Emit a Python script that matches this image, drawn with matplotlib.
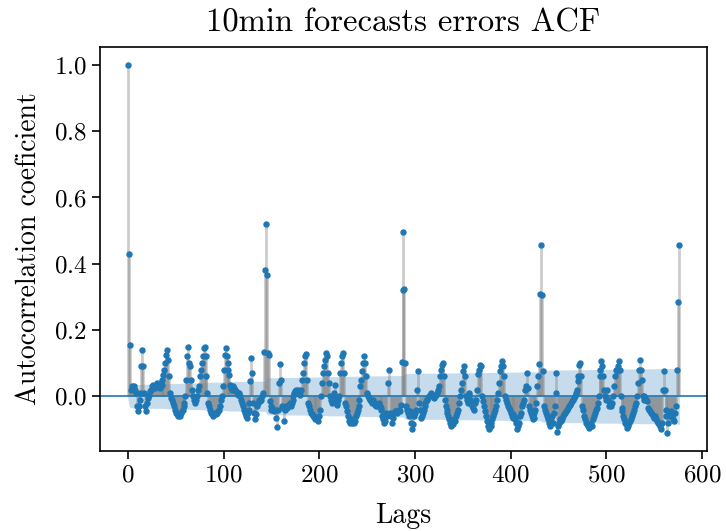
# ACF of the 10-min forecast errors, stems + markers + Bartlett band
import matplotlib
matplotlib.use("Agg")
import matplotlib.pyplot as plt
import numpy as np

plt.rcParams["font.family"] = "serif"
plt.rcParams["font.serif"] = ["cmr10", "DejaVu Serif"]
plt.rcParams["mathtext.fontset"] = "cm"
plt.rcParams["axes.formatter.use_mathtext"] = True
plt.rcParams["axes.unicode_minus"] = False

TITLE   = "10min forecasts errors ACF"
XLABEL  = "Lags"
YLABEL  = "Autocorrelation coeficient"
N_OBS   = 4400   # sample size used for the confidence band
X_TICKS = [0, 100, 200, 300, 400, 500, 600]
Y_TICKS = [0.0, 0.2, 0.4, 0.6, 0.8, 1.0]

# acf value per lag (0..576)
acf_vals = [
    1.0, 0.43, 0.155, 0.02, 0.03, 0.025, 0.03, 0.02, 0.01, -0.03,
    -0.045, -0.03, -0.01, 0.01, 0.09, 0.14, 0.09, 0.01, -0.03, -0.045,
    -0.02, -0.005, 0.005, 0.015, 0.02, 0.03, 0.035, 0.03, 0.025, 0.03,
    0.04, 0.035, 0.03, 0.025, 0.03, 0.035, 0.05, 0.065, 0.08, 0.1,
    0.125, 0.14, 0.11, 0.06, 0.01, -0.005, -0.01, -0.02, -0.03, -0.04,
    -0.05, -0.055, -0.06, -0.055, -0.06, -0.05, -0.045, -0.04, -0.03, -0.02,
    0.0, 0.05, 0.12, 0.15, 0.1, 0.09, 0.05, 0.02, 0.0, -0.01,
    -0.02, -0.01, 0.0, 0.02, 0.03, 0.06, 0.08, 0.1, 0.12, 0.145,
    0.15, 0.12, 0.06, 0.01, -0.02, -0.03, -0.04, -0.05, -0.055, -0.06,
    -0.055, -0.05, -0.055, -0.05, -0.045, -0.04, -0.03, -0.01, 0.0, 0.03,
    0.08, 0.125, 0.145, 0.12, 0.1, 0.08, 0.065, 0.035, 0.025, 0.02,
    0.03, 0.025, 0.02, 0.015, 0.01, 0.005, 0.01, 0.0, -0.01, -0.02,
    -0.03, -0.04, -0.05, -0.06, -0.065, -0.05, -0.04, -0.02, 0.045, 0.115,
    0.07, -0.02, -0.05, -0.07, -0.055, -0.03, -0.02, -0.01, -0.015, -0.01,
    0.0, 0.01, 0.135, 0.38, 0.52, 0.365, 0.13, 0.125, -0.015, -0.03,
    -0.04, -0.035, -0.04, -0.045, -0.04, -0.067, -0.094, -0.04, 0.04, 0.096,
    0.05, -0.03, -0.035, -0.074, -0.04, -0.03, -0.035, -0.03, -0.025, -0.02,
    -0.03, -0.02, -0.01, 0.0, 0.01, 0.015, 0.02, 0.01, 0.02, 0.01,
    0.005, 0.02, 0.05, 0.07, 0.1, 0.12, 0.126, 0.05, -0.02, -0.03,
    -0.04, -0.05, -0.055, -0.06, -0.06, -0.065, -0.07, -0.065, -0.07, -0.075,
    -0.06, -0.04, 0.0, 0.04, 0.07, 0.09, 0.11, 0.13, 0.12, 0.07,
    0.04, 0.0, -0.01, -0.02, 0.0, 0.01, 0.035, -0.01, -0.025, -0.02,
    -0.01, 0.0, 0.07, 0.1, 0.12, 0.13, 0.07, -0.02, -0.03, -0.045,
    -0.06, -0.075, -0.08, -0.075, -0.08, -0.07, -0.08, -0.075, -0.06, -0.05,
    -0.04, -0.03, -0.01, 0.03, 0.05, 0.075, 0.1, 0.12, 0.1, 0.06,
    0.01, 0.0, -0.005, -0.01, -0.015, -0.02, -0.01, -0.02, -0.025, -0.03,
    -0.025, -0.03, -0.02, -0.03, -0.035, -0.04, -0.06, -0.07, -0.08, -0.075,
    -0.05, -0.06, 0.04, 0.08, -0.05, -0.06, -0.08, -0.065, -0.05, -0.045,
    -0.045, -0.05, -0.045, -0.04, -0.045, -0.025, 0.103, 0.32, 0.497, 0.325,
    0.1, -0.03, -0.04, -0.05, -0.06, -0.045, -0.08, -0.1, -0.085, -0.06,
    -0.05, -0.04, 0.02, 0.076, -0.02, -0.04, -0.065, -0.06, -0.05, -0.04,
    -0.03, -0.02, -0.015, -0.01, -0.005, 0.0, 0.005, 0.01, 0.005, 0.0,
    -0.005, 0.0, 0.005, 0.01, 0.02, 0.03, 0.06, 0.08, 0.095, 0.1,
    0.06, -0.01, -0.03, -0.04, -0.05, -0.06, -0.07, -0.08, -0.09, -0.08,
    -0.085, -0.07, -0.075, -0.06, -0.05, -0.04, -0.02, 0.0, 0.02, 0.04,
    0.075, 0.09, 0.06, 0.0, -0.01, -0.02, 0.01, 0.005, -0.01, -0.02,
    -0.03, -0.035, -0.04, -0.02, -0.01, 0.02, 0.066, 0.08, 0.095, 0.09,
    0.0, -0.015, -0.03, -0.045, -0.06, -0.075, -0.09, -0.1, -0.085, -0.09,
    -0.08, -0.07, -0.06, -0.05, -0.04, -0.03, -0.01, 0.01, 0.04, 0.075,
    0.09, 0.106, 0.09, 0.06, 0.0, -0.01, -0.02, -0.03, -0.035, -0.04,
    -0.05, -0.06, -0.065, -0.055, -0.06, -0.07, -0.08, -0.1, -0.09, -0.08,
    -0.06, -0.05, -0.03, -0.02, -0.01, 0.02, 0.03, 0.07, 0.025, -0.03,
    -0.04, -0.05, -0.06, -0.07, -0.065, -0.05, -0.04, -0.02, 0.03, 0.06,
    0.096, 0.31, 0.455, 0.305, 0.076, -0.03, -0.04, -0.05, -0.06, -0.07,
    -0.08, -0.09, -0.075, -0.06, -0.08, -0.05, -0.03, 0.01, 0.07, -0.107,
    -0.09, -0.08, -0.07, -0.075, -0.07, -0.06, -0.055, -0.05, -0.045, -0.04,
    -0.035, -0.03, -0.025, -0.02, -0.015, -0.01, -0.005, 0.0, 0.01, 0.02,
    0.045, 0.06, 0.095, 0.1, 0.06, -0.03, -0.04, -0.06, -0.07, -0.08,
    -0.085, -0.09, -0.095, -0.085, -0.08, -0.09, -0.07, -0.06, -0.05, -0.04,
    -0.035, -0.02, 0.0, 0.06, 0.08, 0.106, 0.09, 0.06, 0.02, 0.0,
    -0.01, 0.02, -0.01, -0.03, -0.02, -0.03, -0.02, 0.0, 0.03, 0.06,
    0.08, 0.075, 0.09, 0.106, 0.08, 0.0, -0.035, -0.045, -0.06, -0.07,
    -0.08, -0.085, -0.095, -0.09, -0.08, -0.075, -0.07, -0.06, -0.05, -0.04,
    -0.03, -0.02, 0.0, 0.04, 0.08, 0.11, 0.08, 0.05, 0.0, -0.01,
    0.0, -0.005, -0.01, -0.015, -0.035, -0.04, -0.045, -0.05, -0.055, -0.06,
    -0.065, -0.06, -0.07, -0.075, -0.08, -0.085, -0.09, -0.1, -0.08, 0.02,
    0.076, 0.02, -0.04, -0.06, -0.11, -0.08, -0.06, -0.05, -0.045, -0.06,
    -0.07, -0.075, -0.05, -0.03, 0.08, 0.285, 0.455,
]


def main():
    acf = np.array(acf_vals)
    lags = np.arange(len(acf))

    # Bartlett variance, as statsmodels does it
    var = np.ones_like(acf) / N_OBS
    var[0] = 0
    var[2:] *= 1 + 2 * np.cumsum(acf[1:-1] ** 2)
    half = 1.96 * np.sqrt(var)
    fill_lags = lags.astype(float)
    fill_lags[0] -= 0.5
    fill_lags[-1] += 0.5

    fig = plt.figure(figsize=(7.26, 5.31), dpi=100)
    ax = fig.add_axes([0.1377, 0.1505, 0.8361, 0.7619])

    ax.vlines(lags, 0, acf, colors="gray", alpha=0.4, linewidth=2)
    ax.axhline(0, color="C0", linewidth=1.2)
    ax.plot(lags, acf, "o", color="C0", markersize=3.6, linestyle="None")
    ax.fill_between(fill_lags, -half, half, color="C0", alpha=0.25, linewidth=0)

    ax.set_xticks(X_TICKS)
    ax.set_yticks(Y_TICKS)
    ax.tick_params(labelsize=18, length=6, width=1.2)
    for s in ax.spines.values():
        s.set_linewidth(1.2)
    ax.set_xlabel(XLABEL, fontsize=20, labelpad=12)
    ax.set_ylabel(YLABEL, fontsize=20, labelpad=8)
    ax.set_title(TITLE, fontsize=23.5, pad=11)

    fig.savefig("out.png", dpi=100)
    plt.close(fig)


if __name__ == "__main__":
    main()
